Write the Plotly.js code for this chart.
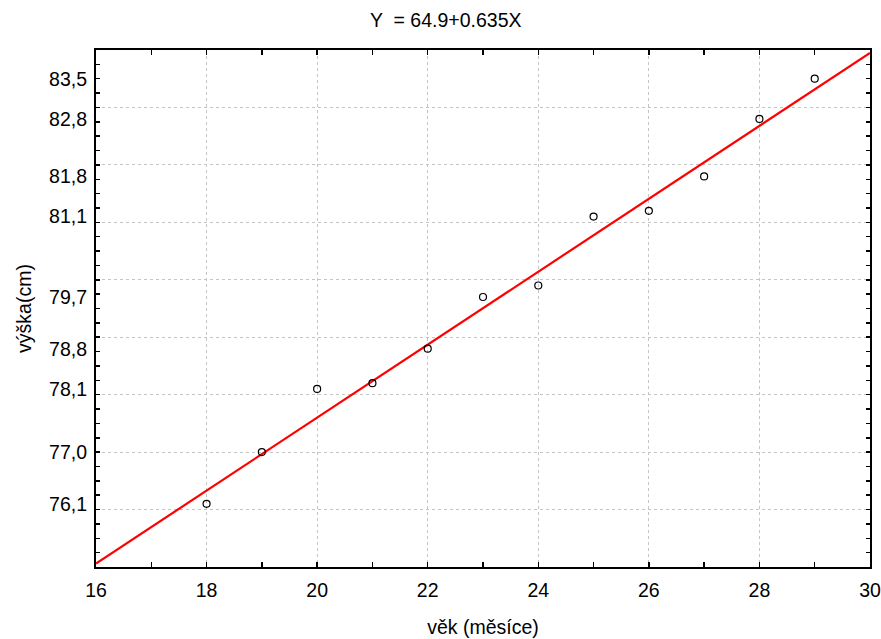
<!DOCTYPE html>
<html>
<head>
<meta charset="utf-8">
<script src="https://cdn.plot.ly/plotly-3.0.1.min.js"></script>
<style>html,body{margin:0;padding:0;background:#fff;}#chart{width:881px;height:639px;}</style>
</head>
<body>
<div id="chart"></div>
<script>
// Data
const ageMonths = [18, 19, 20, 21, 22, 23, 24, 25, 26, 27, 28, 29];
const heightCm  = [76.1, 77.0, 78.1, 78.2, 78.8, 79.7, 79.9, 81.1, 81.2, 81.8, 82.8, 83.5];
const yTickVals = [76.1, 77.0, 78.1, 78.8, 79.7, 81.1, 81.8, 82.8, 83.5];
const yTickText = ["76,1", "77,0", "78,1", "78,8", "79,7", "81,1", "81,8", "82,8", "83,5"];
const xTickVals = [16, 18, 20, 22, 24, 26, 28, 30];
const fitIntercept = 64.9;
const fitSlope = 0.635;
const fitX = [16, 30];
const fitY = fitX.map(x => fitIntercept + fitSlope * x);

const font = "Arial, 'Liberation Sans', sans-serif";
const fs = 19.5;

const traces = [
  {
    x: fitX, y: fitY, type: 'scatter', mode: 'lines',
    line: {color: '#ff0000', width: 2.2}, hoverinfo: 'skip', showlegend: false
  },
  {
    x: ageMonths, y: heightCm, type: 'scatter', mode: 'markers',
    marker: {symbol: 'circle-open', size: 7, color: '#000000', line: {width: 1.2, color: '#000'}},
    showlegend: false
  }
];

const layout = {
  width: 881, height: 639,
  margin: {l: 96, r: 11, t: 50, b: 72},
  paper_bgcolor: '#ffffff', plot_bgcolor: '#ffffff',
  font: {family: font, size: fs, color: '#000'},
  title: {text: 'Y  = 64.9+0.635X', font: {family: font, size: fs, color: '#000'},
          xref: 'container', x: 0.506, xanchor: 'center', yref: 'container', y: 0.968, yanchor: 'middle'},
  xaxis: {
    range: [16, 30], tickmode: 'array', tickvals: xTickVals,
    ticks: 'inside', ticklen: 5, tickwidth: 1.5, tickcolor: '#000',
    showgrid: true, gridcolor: '#c4c4c4', griddash: 'dot', gridwidth: 1,
    minor: {tickmode: 'linear', tick0: 16, dtick: 1, ticks: 'inside', ticklen: 4, tickwidth: 1.5, tickcolor: '#000', showgrid: false},
    showline: true, linecolor: '#000', linewidth: 2, mirror: 'allticks',
    zeroline: false, ticklabelstandoff: 5,
    tickfont: {family: font, size: fs},
    title: {text: 'věk (měsíce)', font: {family: font, size: fs}, standoff: 20}
  },
  yaxis: {
    range: [75, 84], tickmode: 'linear', tick0: 75, dtick: 1,
    ticks: 'inside', ticklen: 4, tickwidth: 1.5, tickcolor: '#000',
    showticklabels: false,
    showgrid: true, gridcolor: '#c4c4c4', griddash: 'dot', gridwidth: 1,
    minor: {tickmode: 'linear', tick0: 75, dtick: 0.25, ticks: 'inside', ticklen: 4, tickwidth: 1.5, tickcolor: '#000', showgrid: false},
    showline: true, linecolor: '#000', linewidth: 2, mirror: 'allticks',
    zeroline: false
  },
  yaxis2: {
    overlaying: 'y', side: 'left', range: [75, 84],
    tickmode: 'array', tickvals: yTickVals, ticktext: yTickText,
    ticks: '', showgrid: false, showline: false, zeroline: false,
    ticklabelstandoff: 8,
    tickfont: {family: font, size: fs},
    title: {text: 'výška(cm)', font: {family: font, size: fs}, standoff: 12}
  },
  showlegend: false
};

// invisible anchor trace so the label axis renders
traces.push({x: [16], y: [75], yaxis: 'y2', type: 'scatter', mode: 'markers',
  marker: {opacity: 0}, hoverinfo: 'skip', showlegend: false});

Plotly.newPlot('chart', traces, layout, {displayModeBar: false, staticPlot: true});
</script>
</body>
</html>
